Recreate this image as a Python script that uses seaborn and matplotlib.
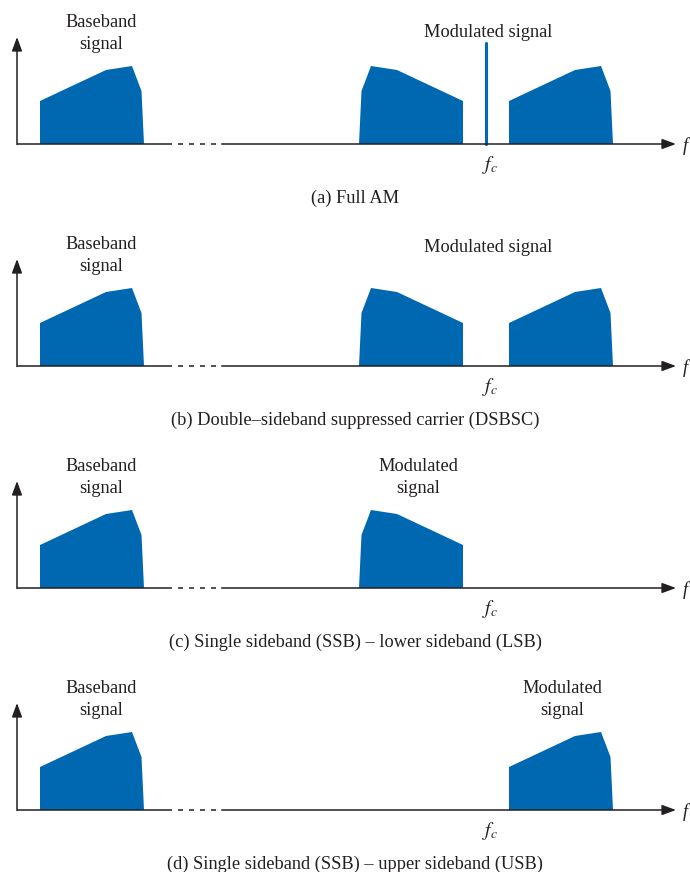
import numpy as np
import matplotlib
matplotlib.use("Agg")
import matplotlib.pyplot as plt
import seaborn as sns

# ---- data (frequency offsets / amplitudes of the spectral sketch) ----
baseband_f = [23, 23, 89, 115, 124.5, 127]
baseband_amp = [0, 43, 74, 78, 53, 0]
fc = 469
carrier_amp = 101
panel_labels = ["(a) Full AM",
                "(b) Double\u2013sideband suppressed carrier (DSBSC)",
                "(c) Single sideband (SSB) \u2013 lower sideband (LSB)",
                "(d) Single sideband (SSB) \u2013 upper sideband (USB)"]
panel_parts = [["lsb", "carrier", "usb"], ["lsb", "usb"], ["lsb"], ["usb"]]
mod_labels = ["Modulated signal", "Modulated signal", "Modulated\nsignal", "Modulated\nsignal"]

sns.set_theme(style="white")
plt.rcParams["font.family"] = ["Liberation Serif", "DejaVu Serif"]
plt.rcParams["mathtext.fontset"] = "stix"

W, H = 690, 872
fig = plt.figure(figsize=(W / 100, H / 100), dpi=100)
fig.patch.set_facecolor("white")

BLUE = "#0067b1"
INK = "#231f20"
FS = 13.2
X0 = 17          # pixel x of frequency origin
baselines = [144, 366, 588, 810]
TOP, BOT = 150, 65
mod_pos = [(488 - X0, 107, None), (488 - X0, 114, None),
           (418 - X0, 117, 95), (562 - X0, 117, 95)]

bf = np.array(baseband_f, dtype=float)
ba = np.array(baseband_amp, dtype=float)

for i, B in enumerate(baselines):
    ax = fig.add_axes([0, 1 - (B + BOT) / H, 1, (TOP + BOT) / H])
    ax.set_xlim(-X0, W - X0)
    ax.set_ylim(-BOT, TOP)
    ax.axis("off")

    # spectra
    ax.fill(bf, ba, color=BLUE, lw=0)
    if "lsb" in panel_parts[i]:
        ax.fill(fc - bf, ba, color=BLUE, lw=0)
    if "usb" in panel_parts[i]:
        ax.fill(fc + bf, ba, color=BLUE, lw=0)
    if "carrier" in panel_parts[i]:
        sns.lineplot(x=[fc, fc], y=[0, carrier_amp], ax=ax, color=BLUE,
                     lw=2.2, sort=False, estimator=None)

    # axes lines
    lw = 1.1
    ax.plot([0, 154.7], [0, 0], color=INK, lw=lw, solid_capstyle="butt")
    segs = [160.7, 171.7, 182.7, 193.7]
    for s in segs:
        ax.plot([s, s + 5], [0, 0], color=INK, lw=lw, solid_capstyle="butt")
    ax.annotate("", xy=(659, 0), xytext=(204.7, 0),
                arrowprops=dict(arrowstyle="-|>,head_length=0.6,head_width=0.22",
                                mutation_scale=14, color=INK, lw=lw,
                                shrinkA=0, shrinkB=0))
    ax.annotate("", xy=(0, 107), xytext=(0, -0.5),
                arrowprops=dict(arrowstyle="-|>,head_length=0.6,head_width=0.22",
                                mutation_scale=14, color=INK, lw=lw,
                                shrinkA=0, shrinkB=0))
    ax.text(666, -2, "f", fontsize=FS, style="italic", color=INK,
            ha="left", va="center")

    # labels
    ax.text(101 - X0, 117, "Baseband", fontsize=FS, color=INK,
            ha="center", va="baseline")
    ax.text(101 - X0, 95, "signal", fontsize=FS, color=INK,
            ha="center", va="baseline")
    mx, my1, my2 = mod_pos[i]
    lines = mod_labels[i].split("\n")
    ax.text(mx, my1, lines[0], fontsize=FS, color=INK, ha="center", va="baseline")
    if len(lines) > 1:
        ax.text(mx, my2, lines[1], fontsize=FS, color=INK, ha="center", va="baseline")
    ax.text(490 - X0, -21, r"$f_c$", fontsize=FS + 1, color=INK,
            ha="center", va="center")
    ax.text(355 - X0, -59, panel_labels[i], fontsize=FS, color=INK,
            ha="center", va="baseline")

fig.savefig("out.png", dpi=100, facecolor="white")
